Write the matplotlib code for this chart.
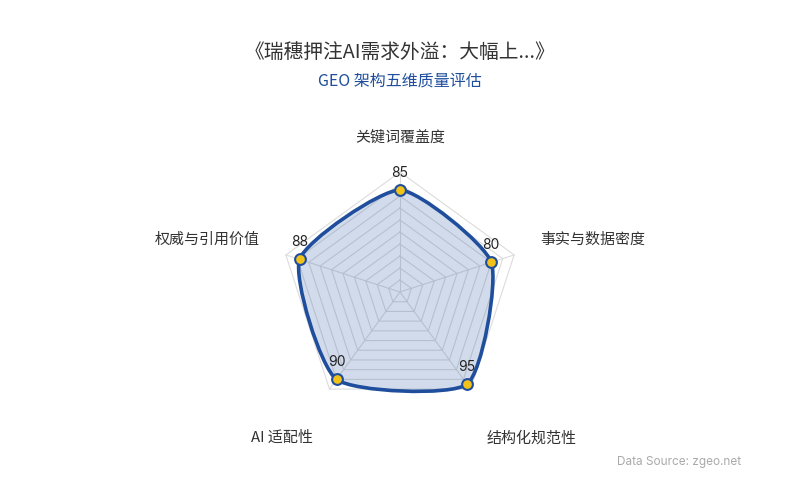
import numpy as np
import matplotlib
matplotlib.use("Agg")
import matplotlib.pyplot as plt
from matplotlib.path import Path
from matplotlib.patches import PathPatch

plt.rcParams['font.family'] = ['Noto Sans CJK SC', 'DejaVu Sans']

title = "《瑞穗押注AI需求外溢：大幅上...》"
subtitle = "GEO 架构五维质量评估"
source = "Data Source: zgeo.net"
indicators = ["关键词覆盖度", "事实与数据密度", "结构化规范性", "AI 适配性", "权威与引用价值"]
values = [85, 80, 95, 90, 88]
max_value = 100
levels = 10

fig = plt.figure(figsize=(8, 5), dpi=100)
ax = fig.add_axes([0, 0, 1, 1])
scale = 1.2  # px per unit
cx, cy = 400, 292
ax.set_xlim(-cx / scale, (800 - cx) / scale)
ax.set_ylim(-(500 - cy) / scale, cy / scale)
ax.axis('off')

n = len(indicators)
ang = np.arange(n) * 2 * np.pi / n  # clockwise from top
ux, uy = np.sin(ang), np.cos(ang)

grid_col = '#dcdcdc'
for k in range(1, levels + 1):
    r = max_value * k / levels
    xs = list(r * ux) + [r * ux[0]]
    ys = list(r * uy) + [r * uy[0]]
    ax.plot(xs, ys, color=grid_col, lw=0.8, zorder=1)
for i in range(n):
    ax.plot([0, max_value * ux[i]], [0, max_value * uy[i]], color=grid_col, lw=0.8, zorder=1)

px = np.array(values) * ux
py = np.array(values) * uy
P = np.column_stack([px, py])

smooth = 0.2
cps0, cps1 = [], []
for i in range(n):
    prev = P[(i - 1) % n]
    nxt = P[(i + 1) % n]
    p = P[i]
    v = (nxt - prev) * smooth
    d0 = np.linalg.norm(p - prev)
    d1 = np.linalg.norm(p - nxt)
    s = d0 + d1
    d0 /= s
    d1 /= s
    cps0.append(p - v * d0)
    cps1.append(p + v * d1)

verts = [P[0]]
codes = [Path.MOVETO]
for i in range(n):
    j = (i + 1) % n
    verts += [cps1[i], cps0[j], P[j]]
    codes += [Path.CURVE4] * 3
verts.append(P[0])
codes.append(Path.CLOSEPOLY)
path = Path(verts, codes)

ax.add_patch(PathPatch(path, facecolor='#1f4e9c', alpha=0.2, edgecolor='none', zorder=2))
ax.add_patch(PathPatch(path, facecolor='none', edgecolor='#1f4e9c', lw=2.6, zorder=3))
ax.scatter(px, py, s=60, color='#f2c21b', edgecolor='#1f4e9c', linewidths=1.5, zorder=4)

for i in range(n):
    ax.annotate(str(values[i]), (px[i], py[i]), xytext=(0, 7.5), textcoords='offset points',
                ha='center', va='bottom', fontsize=10, color='#222222', zorder=5,
                family=['Inter', 'DejaVu Sans'])

# indicator names
lab_r = 123
name_col = '#333333'
for i in range(n):
    x, y = lab_r * ux[i], lab_r * uy[i]
    dy = 0
    if abs(ux[i]) < 1e-6:
        ha, va = 'center', 'bottom'
    elif uy[i] < -0.5:
        ha = 'left' if ux[i] > 0 else 'right'
        va = 'top'
        dy = -14
    else:
        ha = 'left' if ux[i] > 0 else 'right'
        va = 'bottom'
    ax.annotate(indicators[i], (x, y), xytext=(0, dy), textcoords='offset points',
                ha=ha, va=va, fontsize=10.8, color=name_col)

fig.text(0.5, 1 - 52 / 500, title, ha='center', va='center', fontsize=14.2, color='#333333')
fig.text(0.5, 1 - 81 / 500, subtitle, ha='center', va='center', fontsize=11.5, color='#1f4e9c')
fig.text(741 / 800, 1 - 462 / 500, source, ha='right', va='center', fontsize=8.5, color='#aaaaaa',
         family=['Inter', 'DejaVu Sans'])

fig.savefig('out.png', dpi=100, facecolor='white')
